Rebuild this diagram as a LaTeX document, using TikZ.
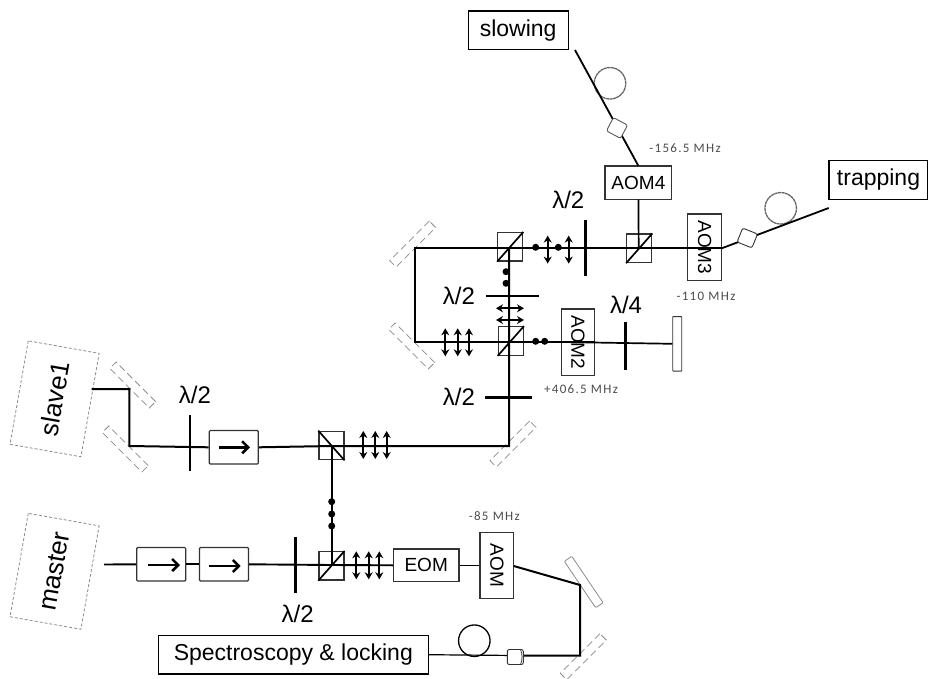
\documentclass[tikz,border=0pt]{standalone}
\usepackage{fontspec}
\setmainfont{Liberation Sans}
\newfontfamily\mhzfont[LetterSpace=10]{Carlito}
\usetikzlibrary{arrows.meta,calc}
\definecolor{mirgray}{gray}{0.55}
\definecolor{txtgray}{gray}{0.3}
\definecolor{boxline}{gray}{0.2}
\tikzset{
  x=1pt,y=-1pt,
  beam/.style={line width=2pt,black},
  plate/.style={line width=2.6pt,black},
  fiber/.style={line width=1.2pt,black},
  optbox/.style={draw=boxline,line width=1.2pt,fill=white,inner sep=0pt,align=center,font=\fontsize{19}{22}\selectfont},
  labelbox/.style={draw=black,line width=1.2pt,fill=white,inner sep=0pt,font=\fontsize{23}{26}\selectfont},
  isobox/.style={optbox,rounded corners=1pt,minimum width=49pt,minimum height=33.5pt},
  isoarrow/.style={line width=2.6pt,-{Straight Barb[length=6pt,width=12pt]}},
  pbsbox/.style={draw=boxline,line width=1.3pt,inner sep=0pt,minimum width=25pt,minimum height=28.5pt},
  pbsdiag/.style={line width=1.7pt,black},
  mirdash/.style={draw=mirgray,dash pattern=on 7pt off 4pt,line width=0.8pt,inner sep=0pt,minimum width=56pt,minimum height=9pt},
  mirsolid/.style={draw=mirgray,line width=0.8pt,rounded corners=1pt,inner sep=0pt,minimum width=56pt,minimum height=9pt},
  lasbox/.style={draw=mirgray,densely dashed,line width=0.8pt,inner sep=0pt,minimum width=105pt,minimum height=72pt,rotate=80,font=\fontsize{26}{28}\selectfont},
  wave/.style={font=\fontsize{24}{27}\selectfont,inner sep=0pt},
  mhz/.style={font=\mhzfont\fontsize{13}{15}\selectfont,text=txtgray,inner sep=0pt},
  beamdot/.style={circle,fill=black,inner sep=0pt,minimum size=7pt},
  polarr/.style={line width=1.7pt,{Stealth[length=7pt,width=8pt]}-{Stealth[length=7pt,width=8pt]}},
  polv/.pic={\draw[polarr] (0,-14) -- (0,14);},
  polh/.pic={\draw[polarr] (-14,0) -- (14,0);},
  coll/.style={draw=boxline,fill=white,line width=0.9pt,rounded corners=2pt,inner sep=0pt,minimum width=16pt,minimum height=15pt},
  loopc/.style={circle,draw=black,line width=1.3pt,inner sep=0pt,minimum size=31.5pt},
  loopg/.style={loopc,draw=black!60,dash pattern=on 3pt off 0.5pt},
}
\begin{document}
\begin{tikzpicture}
\useasboundingbox (0,0) rectangle (928,679);

% --- beam corner points
\coordinate (slaveout) at (91.7,389);
\coordinate (m1) at (129.3,389);
\coordinate (m2) at (129.3,446);
\coordinate (pA) at (331.7,446);
\coordinate (m3) at (509,446);
\coordinate (pB) at (331.7,565);
\coordinate (masterout) at (104,564.5);
\coordinate (pC) at (509,342);
\coordinate (pD) at (509,247.7);
\coordinate (m4) at (415.3,342);
\coordinate (m5) at (415.3,247.7);
\coordinate (pE) at (638.7,247.7);
\coordinate (m6) at (580,585);
\coordinate (m7) at (580,655.5);
\coordinate (slowend) at (575,50);
\coordinate (trapend) at (828.7,208);
\coordinate (aom4out) at (638.3,165.7);
\coordinate (aom3out) at (721.7,248.3);
\coordinate (aomout) at (513.7,566);

% --- mirrors
\node[mirdash,rotate=-45] (mA) at (132.7,385) {};
\node[mirdash,rotate=-45] (mB) at (125.3,449) {};
\node[mirdash,rotate=45] (mC) at (513,444) {};
\node[mirdash,rotate=45] (mD) at (412.7,244) {};
\node[mirdash,rotate=-45] (mE) at (411.7,346) {};
\node[mirdash,rotate=45] (mF) at (583.3,656.7) {};
\node[mirsolid,rotate=-56] (mG) at (583.7,582) {};
\node[draw=boxline,line width=0.9pt,fill=white,inner sep=0pt,minimum width=9pt,minimum height=54.5pt,rounded corners=0.5pt] (mH) at (677.2,343.8) {};

% --- laser boxes
\node[lasbox] (slave) at (54.6,398.8) {slave1};
\node[lasbox] (master) at (54.6,571.3) {master};

% --- output boxes
\node[labelbox,minimum width=100pt,minimum height=38.5pt] (slowing) at (518.2,30.2) {\raisebox{-2pt}{slowing}};
\node[labelbox,minimum width=99pt,minimum height=38.5pt] (trapping) at (878.5,180) {\raisebox{-2pt}{trapping}};
\node[labelbox,minimum width=270pt,minimum height=38.5pt] (spec) at (293.3,654.7) {\raisebox{-1pt}{Spectroscopy \& locking}};

% --- AOMs / EOM
\node[optbox,minimum width=66.7pt,minimum height=33pt] (aom4) at (638.4,182.6) {AOM4};
\node[optbox,minimum width=66.7pt,minimum height=34pt,rotate=-90] (aom3) at (704.7,247.3) {AOM3};
\node[optbox,minimum width=66.7pt,minimum height=32.6pt,rotate=-90] (aom2) at (578,342.3) {AOM2};
\node[optbox,minimum width=66pt,minimum height=33.7pt,rotate=-90] (aom) at (496.9,565.3) {AOM};
\node[optbox,minimum width=65.7pt,minimum height=32.7pt] (eom) at (426.2,565.3) {EOM};

% --- isolators
\node[isobox] (iso1) at (233.8,447.3) {};
\node[isobox] (iso2) at (161.2,564.3) {};
\node[isobox] (iso3) at (224,564.3) {};

% --- PBS cubes
\node[pbsbox] (pbs1) at (331.4,445.5) {};
\node[pbsbox] (pbs2) at (331.4,565.8) {};
\node[pbsbox] (pbs3) at (510.8,341) {};
\node[pbsbox] (pbs4) at (510.2,246.8) {};
\node[pbsbox] (pbs5) at (639.2,248.3) {};

% --- fibre loops
\node[loopg] (l1) at (610,83.3) {};
\node[loopg] (l2) at (780.7,208.3) {};
\node[loopc] (l3) at (474.3,640.7) {};

% --- beams
\draw[beam] (slaveout) -- (m1) -- (m2) -- (iso1.west);
\draw[beam] (iso1.east) -- (pA) -- (m3) -- (pC) -- (pD);
\draw[beam] (pA) -- (pB);
\draw[beam,line width=1.9pt] (masterout) -- (iso2.west);
\draw[beam,line width=1.9pt] (iso2.east) -- (iso3.west);
\draw[beam,line width=1.9pt] (iso3.east) -- (pB) -- (eom.west);
\draw[beam,line width=1.6pt] (eom.east) -- (aom.south |- eom.east);
\draw[beam] (aomout) -- (m6) -- (m7) -- (515.3,655.5);
\draw[fiber] (515.3,655.5) -- (spec.east);
\draw[beam,line width=1.8pt] (pC) -- (m4) -- (m5) -- (pD) -- (aom3.north |- pE);
\draw[beam,line width=1.7pt] (pC) -- (aom2.north |- pC);
\draw[beam,line width=1.7pt] (aom2.south |- pC) -- (mH.west);
\draw[beam,line width=1.7pt] (pE) -- (aom4.south);
\draw[beam,line width=1.8pt] (aom4out) -- (slowend);
\draw[beam,line width=1.8pt] (aom3out) -- (trapend);

% --- collimators on top of beams
\node[coll,rotate=-22] (c1) at (747.3,238) {};
\node[coll,draw=black!65,rotate=-28] (c2) at (617,128) {};
\node[coll] (c3) at (515.3,657) {};
\draw[boxline,line width=0.7pt] (520.5,649.5) .. controls (522.5,653) and (522.5,661) .. (520.5,664.5);

% --- PBS diagonals
\draw[pbsdiag] (pbs1.north west) -- (pbs1.south east);
\draw[pbsdiag] (pbs2.south west) -- (pbs2.north east);
\draw[pbsdiag] (pbs3.south west) -- (pbs3.north east);
\draw[pbsdiag] (pbs4.south west) -- (pbs4.north east);
\draw[pbsdiag] (pbs5.south west) -- (pbs5.north east);

% --- isolator arrows
\coordinate (a1s) at (219,447.3); \coordinate (a1e) at (250,447.3);
\coordinate (a2s) at (148,565); \coordinate (a2e) at (180,565);
\coordinate (a3s) at (209.3,566); \coordinate (a3e) at (240.7,566);
\draw[isoarrow] (a1s) -- (a1e);
\draw[isoarrow] (a2s) -- (a2e);
\draw[isoarrow] (a3s) -- (a3e);

% --- wave plates
\draw[plate] (190,415) -- (190,471);
\draw[plate] (295.3,537.3) -- (295.3,593.3);
\draw[plate] (485,397.3) -- (531.7,397.3);
\draw[plate] (486,296) -- (539,296);
\draw[plate] (625.3,321.7) -- (625.3,370);
\draw[plate] (585.3,220) -- (585.3,276);

% --- polarisation: dots
\node[beamdot] (d1) at (331.7,501.7) {};
\node[beamdot] (d2) at (331.7,514) {};
\node[beamdot] (d3) at (331.7,526) {};
\node[beamdot] (d4) at (506,271.7) {};
\node[beamdot] (d5) at (506,283.3) {};
\node[beamdot] (d6) at (535.7,341.3) {};
\node[beamdot] (d7) at (544.7,341.3) {};
\node[beamdot] (d8) at (535.7,247.3) {};
\node[beamdot] (d9) at (558.3,247.3) {};

% --- polarisation: arrows
\pic at (363.3,445) {polv};
\pic at (375.3,445) {polv};
\pic at (386.7,445) {polv};
\pic at (356.3,565.3) {polv};
\pic at (368.7,565.3) {polv};
\pic at (379.3,565.3) {polv};
\pic at (445.3,342.3) {polv};
\pic at (457.7,342.3) {polv};
\pic at (469,342.3) {polv};
\pic at (547.7,249.6) {polv};
\pic at (568.7,249.6) {polv};
\pic at (510,308.3) {polh};
\pic at (510,320) {polh};

% --- labels
\node[wave] (w1) at (195,395) {λ/2};
\node[wave] (w2) at (297.7,614) {λ/2};
\node[wave] (w3) at (459,397) {λ/2};
\node[wave] (w4) at (459,296) {λ/2};
\node[wave] (w5) at (568.3,200) {λ/2};
\node[wave] (w6) at (626,305) {λ/4};
\node[mhz] (f1) at (685,147.7) {-156.5 MHz};
\node[mhz] (f2) at (706,296) {-110 MHz};
\node[mhz] (f3) at (581,389.3) {+406.5 MHz};
\node[mhz] (f4) at (494.3,515.7) {-85 MHz};
\end{tikzpicture}
\end{document}
